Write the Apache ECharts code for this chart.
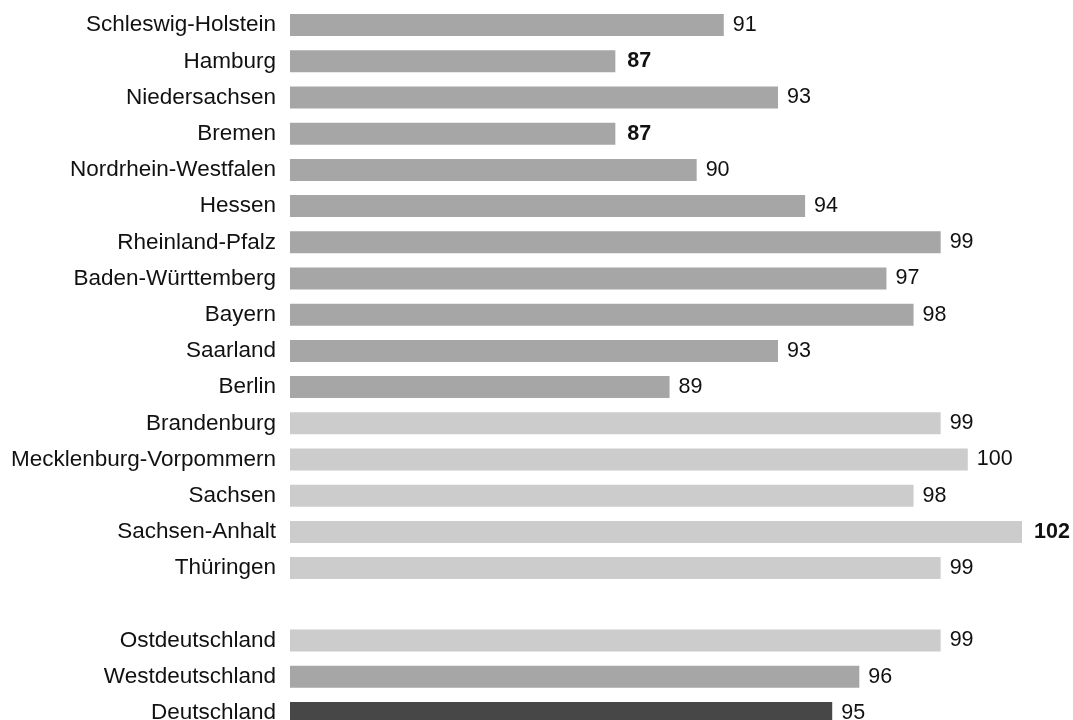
<!DOCTYPE html>
<html>
<head>
<meta charset="utf-8">
<style>
html,body{margin:0;padding:0;background:#fff;overflow:hidden;}
#chart{width:1073px;height:731px;}
</style>
<script src="https://cdn.jsdelivr.net/npm/echarts@6/dist/echarts.min.js"></script>
</head>
<body>
<div id="chart"></div>
<script>
const categories = ['Schleswig-Holstein','Hamburg','Niedersachsen','Bremen','Nordrhein-Westfalen','Hessen','Rheinland-Pfalz','Baden-Württemberg','Bayern','Saarland','Berlin','Brandenburg','Mecklenburg-Vorpommern','Sachsen','Sachsen-Anhalt','Thüringen','','Ostdeutschland','Westdeutschland','Deutschland'];
const values = [91,87,93,87,90,94,99,97,98,93,89,99,100,98,102,99,null,99,96,95];
const groups = ['W','W','W','W','W','W','W','W','W','W','W','O','O','O','O','O','','O','W','D'];
const boldValues = [87,102];

const colorMap = {W:'#a6a6a6', O:'#cccccc', D:'#474747'};

const chart = echarts.init(document.getElementById('chart'));
const data = values.map((v,i) => {
  if (v === null) return '-';
  const bold = boldValues.includes(v) && i < 16;
  return {
    value: v,
    itemStyle: {color: colorMap[groups[i]]},
    label: bold ? {fontWeight: 'bold', distance: 12} : {fontWeight: 'normal'}
  };
});

chart.setOption({
  animation: false,
  grid: {left: 290, right: 51, top: 7, bottom: 0, containLabel: false},
  xAxis: {type: 'value', min: 75, max: 102, show: false},
  yAxis: {
    type: 'category', data: categories, inverse: true,
    axisLine: {show: false}, axisTick: {show: false},
    axisLabel: {fontFamily: 'Liberation Sans', fontSize: 22.5, color: '#111111', margin: 14}
  },
  series: [{
    type: 'bar', data: data, barWidth: 22,
    label: {show: true, position: 'right', distance: 9, fontFamily: 'Liberation Sans', fontSize: 21.5, color: '#111111'}
  }]
});
</script>
</body>
</html>
